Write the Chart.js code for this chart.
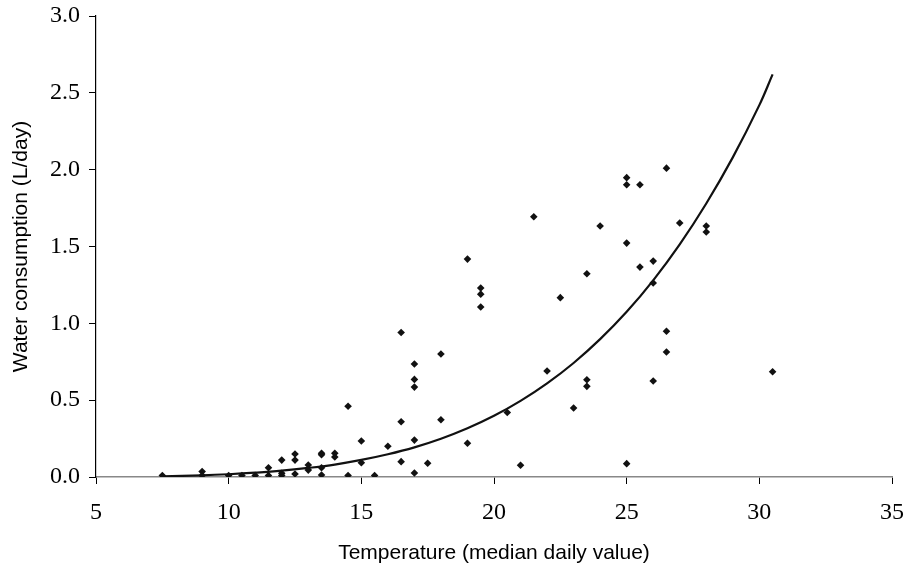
<!DOCTYPE html>
<html>
<head>
<meta charset="utf-8">
<script src="https://cdn.jsdelivr.net/npm/chart.js@4.4.0/dist/chart.umd.min.js"></script>
<style>
    html, body { margin: 0; padding: 0; background: #fff; }
    #wrap { width: 904px; height: 563px; }
</style>
</head>
<body>
<div id="wrap"><canvas id="chart"></canvas></div>
<script>
// observed data: temperature (median daily value) and water consumption (L/day)
let temps = [
    7.5, 9, 9, 10, 10.5, 11, 11.5, 11.5, 12, 12, 12,
    12.5, 12.5, 12.5, 13, 13, 13.5, 13.5, 13.5, 13.5, 14, 14,
    14.5, 14.5, 15, 15, 15.5, 16, 16.5, 16.5, 16.5,
    17, 17, 17, 17, 17, 17.5, 18, 18, 19, 19,
    19.5, 19.5, 19.5, 20.5, 21, 21.5, 22, 22.5, 23,
    23.5, 23.5, 23.5, 24, 25, 25, 25, 25, 25.5, 25.5,
    26, 26, 26, 26.5, 26.5, 26.5, 27, 28, 28, 30.5
];
let water = [
    0.01, 0.035, 0.01, 0.01, 0.01, 0.01, 0.06, 0.01, 0.11, 0.024, 0.01,
    0.15, 0.11, 0.02, 0.078, 0.045, 0.154, 0.145, 0.06, 0.013, 0.155, 0.13,
    0.46, 0.01, 0.234, 0.093, 0.01, 0.2, 0.94, 0.36, 0.1,
    0.735, 0.635, 0.585, 0.24, 0.026, 0.089, 0.8, 0.373, 1.418, 0.22,
    1.23, 1.19, 1.106, 0.42, 0.076, 1.694, 0.69, 1.167, 0.449,
    1.323, 0.633, 0.59, 1.633, 1.948, 1.902, 1.522, 0.087, 1.902, 1.366,
    1.405, 1.262, 0.625, 2.01, 0.948, 0.813, 1.653, 1.633, 1.594, 0.685
];

// trend curve
let curveTemps = [7.5, 9, 10, 11, 12, 13, 14, 15, 16, 17, 18, 19, 20, 21, 22, 23, 24, 25, 26, 27, 28, 29, 30, 30.5];
let curveWater = [0.005, 0.011, 0.018, 0.028, 0.041, 0.059, 0.081, 0.111, 0.148, 0.193, 0.249, 0.317, 0.398, 0.495, 0.609, 0.742, 0.897, 1.075, 1.28, 1.514, 1.78, 2.08, 2.42, 2.62];

// axis ticks
let xTicks = [5, 10, 15, 20, 25, 30, 35];
let yTicks = [0, 0.5, 1.0, 1.5, 2.0, 2.5, 3.0];

const points = temps.map((t, i) => ({ x: t, y: water[i] }));
const curve = curveTemps.map((t, i) => ({ x: t, y: curveWater[i] }));

const tickFont = { family: "Liberation Serif", size: 24 };
const titleFont = { family: "Liberation Sans", size: 21 };

new Chart(document.getElementById("chart"), {
    type: "scatter",
    data: {
        datasets: [
            {
                label: "Observed",
                data: points,
                pointStyle: "rectRot",
                pointRadius: 3.8,
                backgroundColor: "#111",
                borderColor: "#111",
                borderWidth: 0,
            },
            {
                label: "Trend",
                data: curve,
                showLine: true,
                pointRadius: 0,
                borderColor: "#111",
                borderWidth: 2.2,
                tension: 0.4,
                fill: false,
            },
        ],
    },
    options: {
        responsive: true,
        maintainAspectRatio: false,
        animation: false,
        layout: { padding: { top: 16, right: 12, left: 0, bottom: 0 } },
        plugins: {
            legend: { display: false },
            tooltip: { enabled: false },
        },
        scales: {
            x: {
                type: "linear",
                min: 5,
                max: 35,
                afterBuildTicks: (s) => { s.ticks = xTicks.map((v) => ({ value: v })); },
                afterFit: (s) => {
                    s.height = 86;
                    s.paddingLeft = 0;
                    s.paddingRight = 0;
                },
                ticks: { font: tickFont, color: "#000", padding: 14 },
                grid: { drawOnChartArea: false, tickLength: 7, color: "#000" },
                border: { color: "#888", width: 1.5 },
                title: {
                    display: true,
                    text: "Temperature (median daily value)",
                    font: titleFont,
                    color: "#000",
                    padding: { top: 0, bottom: -3 },
                },
            },
            y: {
                min: 0,
                max: 3,
                afterBuildTicks: (s) => { s.ticks = yTicks.map((v) => ({ value: v })); },
                afterFit: (s) => {
                    s.width = 96;
                    s.paddingTop = 0;
                    s.paddingBottom = 0;
                },
                ticks: {
                    font: tickFont,
                    color: "#000",
                    padding: 9,
                    callback: (v) => Number(v).toFixed(1),
                },
                grid: { drawOnChartArea: false, tickLength: 7, color: "#000" },
                border: { color: "#000", width: 1.2 },
                title: {
                    display: true,
                    text: "Water consumption (L/day)",
                    font: titleFont,
                    color: "#000",
                    padding: { top: 9, bottom: 0 },
                },
            },
        },
    },
});
</script>
</body>
</html>
